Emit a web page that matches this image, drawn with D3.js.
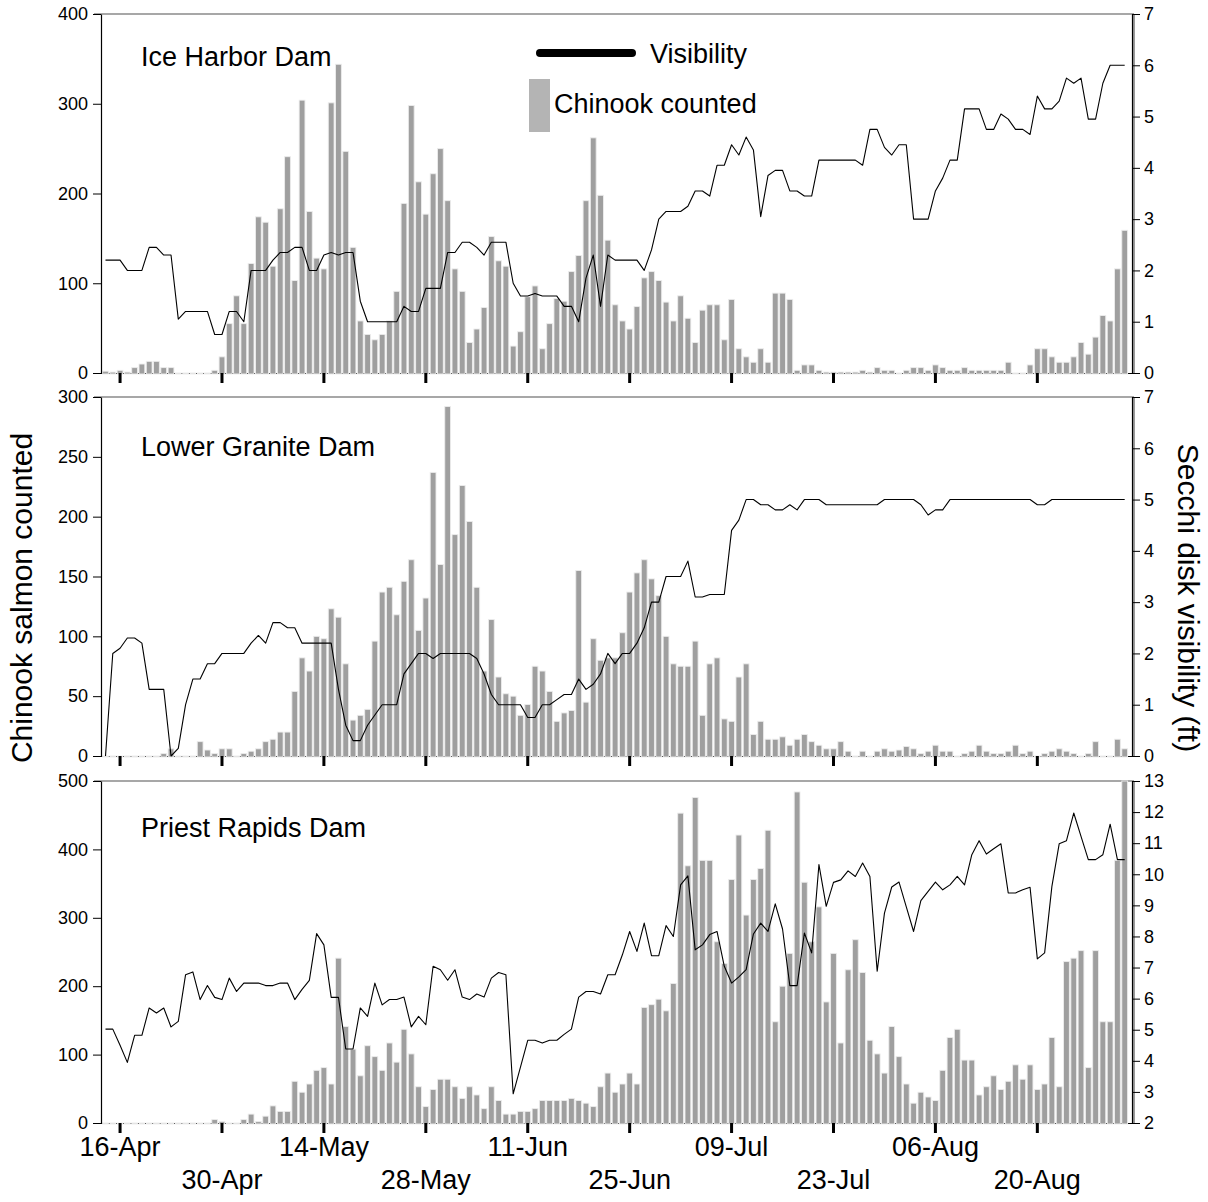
<!DOCTYPE html>
<html>
<head>
<meta charset="utf-8">
<script src="https://cdn.jsdelivr.net/npm/d3@7"></script>
<style>
  body { margin: 0; background: #fff; }
  text { font-family: "Liberation Sans", Arial, sans-serif; fill: #000; }
</style>
</head>
<body>
<svg id="chart" width="1208" height="1202"></svg>
<script>
// Daily series, 14-Apr (day 0) through 1-Sep (day 140)
const tickDays   = [2, 16, 30, 44, 58, 72, 86, 100, 114, 128];
const tickLabels = ["16-Apr", "30-Apr", "14-May", "28-May", "11-Jun", "25-Jun", "09-Jul", "23-Jul", "06-Aug", "20-Aug"];

const iceHarborCounts = [
  2,1,3,1,6,10,13,13,6,6,
  0,0,0,0,0,3,18,55,86,55,
  122,174,168,119,183,241,103,304,180,128,
  116,301,344,247,140,58,43,37,43,58,
  91,189,298,213,177,222,250,192,116,91,
  34,49,73,152,125,119,30,46,85,97,
  27,55,83,80,113,131,192,262,198,148,
  76,58,49,74,106,113,103,79,58,86,
  61,34,70,76,76,37,82,27,18,12,
  27,12,89,89,82,3,9,9,3,1,
  1,1,1,1,3,1,6,3,3,0,
  3,6,6,3,9,6,3,3,6,3,
  3,3,3,3,12,0,0,9,27,27,
  18,12,12,18,34,21,40,64,58,116,
  159
];
const iceHarborVisibility = [
  2.2,2.2,2.2,2.0,2.0,2.0,2.45,2.45,2.3,2.3,
  1.05,1.2,1.2,1.2,1.2,0.75,0.75,1.2,1.2,1.0,
  2.0,2.0,2.0,2.2,2.35,2.35,2.45,2.45,2.0,2.0,
  2.3,2.35,2.3,2.35,2.35,1.4,1.0,1.0,1.0,1.0,
  1.0,1.3,1.2,1.2,1.65,1.65,1.65,2.35,2.35,2.55,
  2.55,2.45,2.3,2.55,2.55,2.55,1.75,1.5,1.5,1.55,
  1.5,1.5,1.5,1.3,1.3,1.0,1.85,2.3,1.3,2.3,
  2.2,2.2,2.2,2.2,2.0,2.4,3.0,3.15,3.15,3.15,
  3.25,3.55,3.55,3.45,4.05,4.05,4.45,4.25,4.6,4.35,
  3.05,3.85,3.95,3.95,3.55,3.55,3.45,3.45,4.15,4.15,
  4.15,4.15,4.15,4.15,4.05,4.75,4.75,4.4,4.25,4.45,
  4.45,3.0,3.0,3.0,3.55,3.8,4.15,4.15,5.15,5.15,
  5.15,4.75,4.75,5.05,4.95,4.75,4.75,4.65,5.4,5.15,
  5.15,5.3,5.75,5.65,5.75,4.95,4.95,5.65,6.0,6.0,
  6.0
];

const lowerGraniteCounts = [
  0,0,0,0,0,0,0,0,2,6,
  0,0,0,12,5,2,6,6,0,2,
  4,6,12,14,20,20,54,82,71,100,
  98,123,116,77,30,34,39,96,137,141,
  118,146,164,105,132,237,160,292,185,226,
  196,141,71,114,66,52,50,34,43,75,
  71,54,29,36,38,155,45,98,80,82,
  82,103,137,153,164,148,134,100,77,75,
  75,96,34,77,82,31,29,66,77,18,
  29,14,14,16,9,14,18,12,9,6,
  6,12,4,0,4,0,4,6,4,5,
  8,6,2,4,9,4,4,0,2,4,
  9,4,2,2,4,9,2,4,0,2,
  4,6,4,2,0,2,12,0,0,14,
  6
];
const lowerGraniteVisibility = [
  0,2.0,2.1,2.3,2.3,2.2,1.3,1.3,1.3,0,
  0.15,1.0,1.5,1.5,1.8,1.8,2.0,2.0,2.0,2.0,
  2.2,2.35,2.2,2.6,2.6,2.5,2.5,2.2,2.2,2.2,
  2.2,2.2,1.3,0.6,0.3,0.3,0.6,0.8,1.0,1.0,
  1.0,1.6,1.8,2.0,2.0,1.9,2.0,2.0,2.0,2.0,
  2.0,1.9,1.6,1.2,1.0,1.0,1.0,1.0,0.75,0.75,
  1.0,1.0,1.1,1.2,1.2,1.5,1.3,1.4,1.6,2.0,
  1.8,2.0,2.0,2.2,2.5,3.0,3.0,3.5,3.5,3.5,
  3.8,3.1,3.1,3.15,3.15,3.15,4.4,4.6,5.0,5.0,
  4.9,4.9,4.8,4.8,4.9,4.8,5.0,5.0,5.0,4.9,
  4.9,4.9,4.9,4.9,4.9,4.9,4.9,5.0,5.0,5.0,
  5.0,5.0,4.9,4.7,4.8,4.8,5.0,5.0,5.0,5.0,
  5.0,5.0,5.0,5.0,5.0,5.0,5.0,5.0,4.9,4.9,
  5.0,5.0,5.0,5.0,5.0,5.0,5.0,5.0,5.0,5.0,
  5.0
];

const priestRapidsCounts = [
  0,0,0,0,0,0,0,0,0,0,
  0,0,0,0,0,5,2,0,0,5,
  13,2,10,25,17,17,61,45,57,77,
  81,57,241,141,108,69,113,97,77,117,
  89,137,101,53,24,49,64,64,53,36,
  53,41,21,53,33,13,13,17,17,21,
  33,33,33,33,36,33,29,24,53,73,
  45,57,73,57,169,173,181,164,204,453,
  376,476,384,384,265,233,356,421,304,356,
  372,428,148,200,248,484,352,265,316,177,
  248,117,224,268,220,121,101,73,141,97,
  57,29,45,38,33,77,125,137,92,92,
  41,53,69,49,61,85,64,85,49,57,
  125,53,236,241,252,81,252,148,148,384,
  500
];
const priestRapidsVisibility = [
  5.02,5.02,4.5,3.95,4.82,4.82,5.7,5.54,5.7,5.09,
  5.27,6.77,6.86,5.97,6.42,6.04,5.97,6.66,6.23,6.5,
  6.5,6.5,6.42,6.42,6.5,6.5,5.97,6.3,6.59,8.09,
  7.73,6.04,6.04,4.38,4.38,5.7,5.43,6.5,5.8,5.97,
  5.97,6.05,5.09,5.43,5.16,7.04,6.93,6.59,6.93,6.05,
  5.97,6.15,6.05,6.66,6.84,6.77,2.94,3.8,4.66,4.66,
  4.57,4.66,4.66,4.85,5.02,6.05,6.23,6.23,6.15,6.77,
  6.77,7.41,8.16,7.52,8.43,7.38,7.38,8.35,8.0,9.66,
  9.95,7.57,7.73,8.06,8.16,7.04,6.5,6.7,6.93,8.08,
  8.43,8.16,9.05,8.24,6.42,6.42,8.11,7.47,10.31,8.97,
  9.74,9.82,10.11,9.93,10.36,9.93,6.88,8.75,9.59,9.75,
  8.95,8.16,9.15,9.45,9.75,9.5,9.66,9.93,9.66,10.63,
  11.08,10.65,10.82,10.98,9.4,9.4,9.5,9.58,7.28,7.47,
  9.61,10.98,11.08,11.97,11.22,10.47,10.47,10.63,11.61,10.47,
  10.47
];

const panels = [
  { title: "Ice Harbor Dam", counts: iceHarborCounts, vis: iceHarborVisibility,
    countDomain: [0, 400], countTicks: d3.range(0, 401, 100),
    visDomain: [0, 7], visTicks: d3.range(0, 8),
    top: 14, bottom: 373, titleY: 66, legend: true },
  { title: "Lower Granite Dam", counts: lowerGraniteCounts, vis: lowerGraniteVisibility,
    countDomain: [0, 300], countTicks: d3.range(0, 301, 50),
    visDomain: [0, 7], visTicks: d3.range(0, 8),
    top: 397, bottom: 756, titleY: 456 },
  { title: "Priest Rapids Dam", counts: priestRapidsCounts, vis: priestRapidsVisibility,
    countDomain: [0, 500], countTicks: d3.range(0, 501, 100),
    visDomain: [2, 13], visTicks: d3.range(2, 14),
    top: 781, bottom: 1123, titleY: 837 }
];

const svg = d3.select("#chart");
const plotLeft = 101, plotRight = 1132;
const x = d3.scaleLinear().domain([0, 140]).range([105.5, 1124.7]);
const barW = 5.8;
const fontFamily = "'Liberation Sans', Arial, sans-serif";

panels.forEach(p => {
  const yC = d3.scaleLinear().domain(p.countDomain).range([p.bottom, p.top]);
  const yV = d3.scaleLinear().domain(p.visDomain).range([p.bottom, p.top]);
  const g = svg.append("g");

  // top frame line
  g.append("line").attr("x1", 94).attr("x2", plotRight + 2)
    .attr("y1", p.top).attr("y2", p.top)
    .attr("stroke", "#8a8a8a").attr("stroke-width", 1.5);

  // baseline
  g.append("line").attr("x1", plotLeft).attr("x2", plotRight)
    .attr("y1", p.bottom + 0.5).attr("y2", p.bottom + 0.5)
    .attr("stroke", "#000").attr("stroke-width", 1);

  // daily counts
  g.append("g").selectAll("rect").data(p.counts).join("rect")
    .attr("x", (d, i) => x(i) - barW / 2)
    .attr("width", barW)
    .attr("y", d => yC(d))
    .attr("height", d => p.bottom + 1 - yC(d))
    .attr("fill", "#9f9f9f")
    .attr("stroke", "#ececec")
    .attr("stroke-width", 0.9);

  // visibility line
  g.append("path").datum(p.vis)
    .attr("fill", "none").attr("stroke", "#000").attr("stroke-width", 1.1)
    .attr("stroke-linejoin", "round")
    .attr("d", d3.line().x((d, i) => x(i)).y(d => yV(d)));

  // left axis
  const la = g.append("g").attr("transform", `translate(${plotLeft},0)`)
    .call(d3.axisLeft(yC).tickValues(p.countTicks).tickFormat(d3.format("d"))
      .tickSize(8).tickSizeOuter(0).tickPadding(5));
  la.select(".domain").attr("stroke", "#000").attr("stroke-width", 1.2);
  la.selectAll(".tick line").attr("stroke", "#000");
  la.selectAll("text").style("font-size", "18px").style("font-family", fontFamily);

  // right axis
  g.append("line").attr("x1", plotRight + 2).attr("x2", plotRight + 2)
    .attr("y1", p.top).attr("y2", p.bottom + 1)
    .attr("stroke", "#7a7a7a").attr("stroke-width", 1.5);
  const ra = g.append("g").attr("transform", `translate(${plotRight},0)`)
    .call(d3.axisRight(yV).tickValues(p.visTicks).tickFormat(d3.format("d"))
      .tickSize(8).tickSizeOuter(0).tickPadding(4));
  ra.select(".domain").attr("stroke", "#000").attr("stroke-width", 1.2);
  ra.selectAll(".tick line").attr("stroke", "#000");
  ra.selectAll("text").style("font-size", "18px").style("font-family", fontFamily);

  // date tick marks
  g.append("g").selectAll("rect").data(tickDays).join("rect")
    .attr("x", d => x(d) - 1.5).attr("width", 3)
    .attr("y", p.bottom).attr("height", 10)
    .attr("fill", "#000");

  // panel title
  g.append("text").attr("x", 141).attr("y", p.titleY)
    .style("font-size", "27px").text(p.title);

  if (p.legend) {
    g.append("line").attr("x1", 540).attr("x2", 632).attr("y1", 53).attr("y2", 53)
      .attr("stroke", "#000").attr("stroke-width", 8).attr("stroke-linecap", "round");
    g.append("text").attr("x", 650).attr("y", 63).style("font-size", "27px").text("Visibility");
    g.append("rect").attr("x", 529).attr("y", 79).attr("width", 21).attr("height", 53)
      .attr("fill", "#b4b4b4");
    g.append("text").attr("x", 554).attr("y", 113).style("font-size", "27px").text("Chinook counted");
  }
});

// date labels, alternating rows
svg.append("g").selectAll("text").data(tickDays).join("text")
  .attr("x", d => x(d))
  .attr("y", (d, i) => i % 2 === 0 ? 1156 : 1189)
  .attr("text-anchor", "middle")
  .style("font-size", "27px")
  .text((d, i) => tickLabels[i]);

// axis titles
svg.append("text").attr("transform", "translate(32,598) rotate(-90)")
  .attr("text-anchor", "middle").style("font-size", "30px").text("Chinook salmon counted");
svg.append("text").attr("transform", "translate(1178,598) rotate(90)")
  .attr("text-anchor", "middle").style("font-size", "30px").text("Secchi disk visibility (ft)");
</script>
</body>
</html>
